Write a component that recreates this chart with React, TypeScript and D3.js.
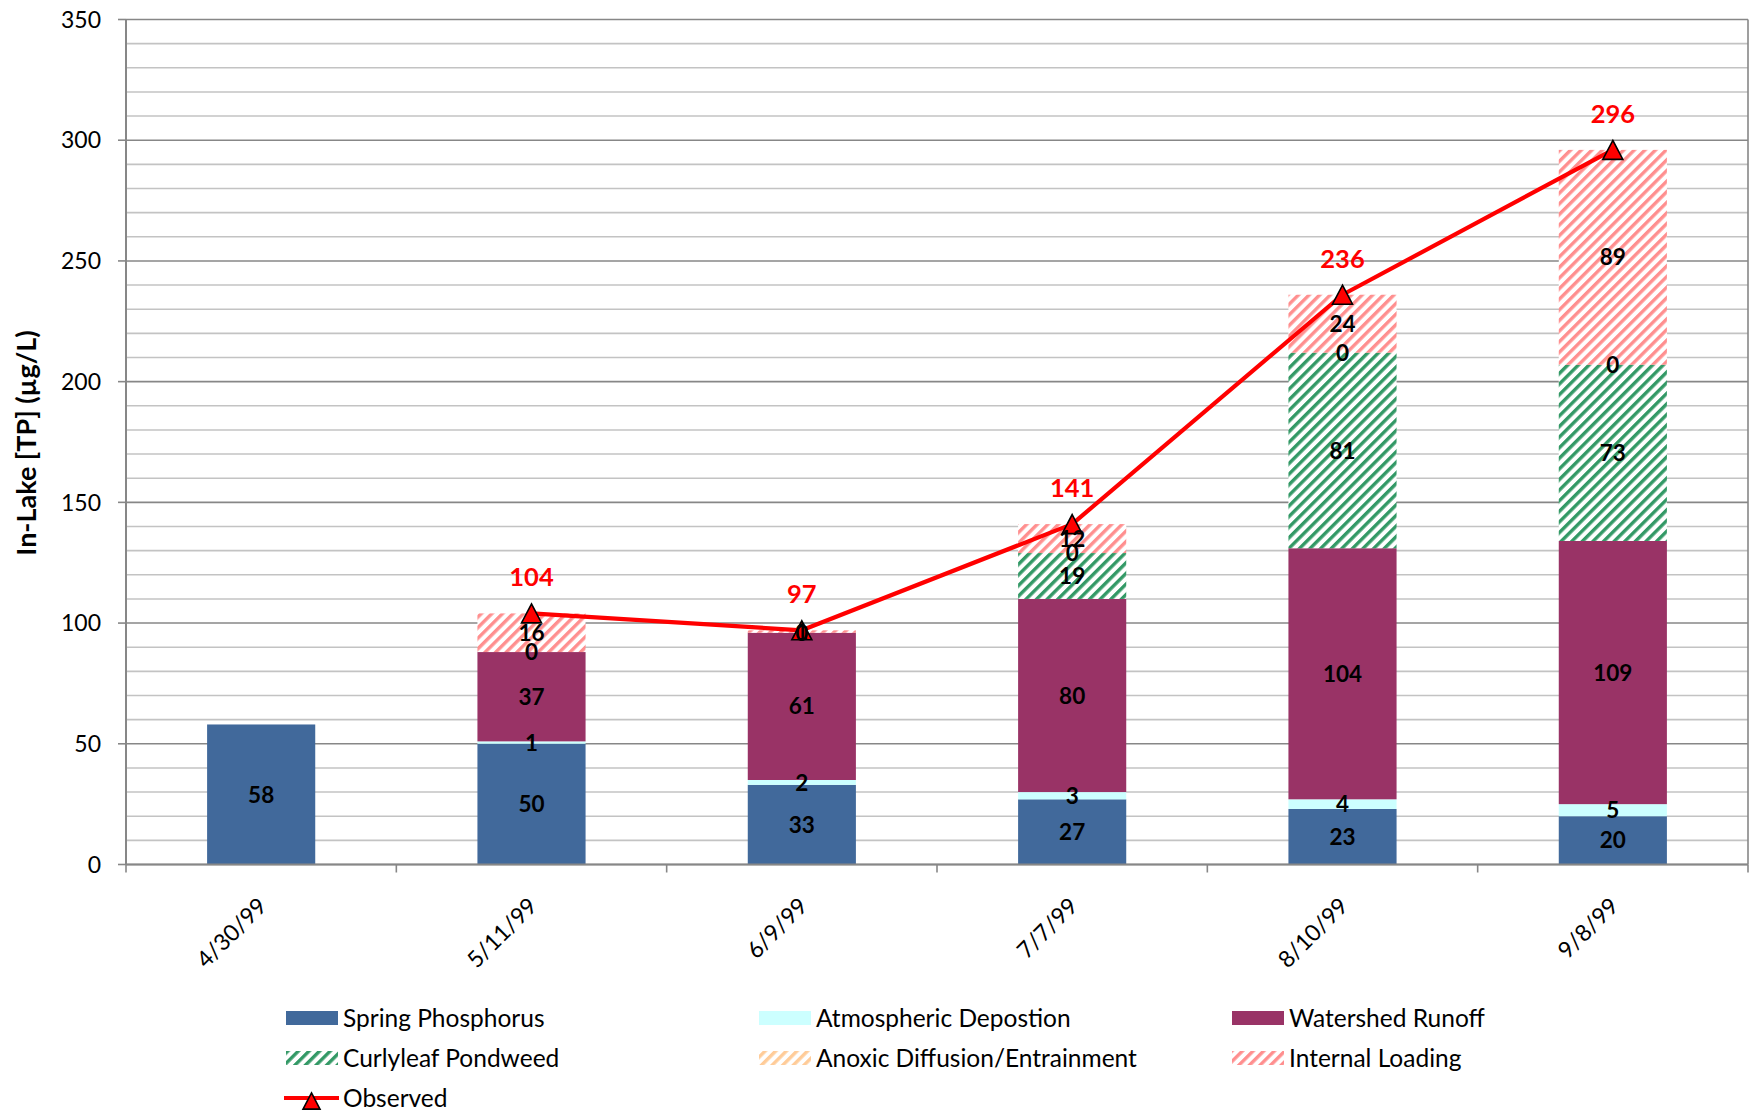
import React from "react";
import * as d3 from "d3";

// Sampling dates (category axis)
const dates = ["4/30/99", "5/11/99", "6/9/99", "7/7/99", "8/10/99", "9/8/99"];

// Phosphorus source contributions, µg/L (null = not part of that date's budget)
const springPhosphorus = [58, 50, 33, 27, 23, 20];
const atmosphericDeposition = [null, 1, 2, 3, 4, 5];
const watershedRunoff = [null, 37, 61, 80, 104, 109];
const curlyleafPondweed = [null, null, null, 19, 81, 73];
const anoxicDiffusion = [null, 0, 0, 0, 0, 0];
const internalLoading = [null, 16, 1, 12, 24, 89];

// Measured in-lake TP
const observed = [null, 104, 97, 141, 236, 296];

const yTicks = [0, 50, 100, 150, 200, 250, 300, 350];

const W = 1754;
const H = 1113;
const PLOT = { left: 126, right: 1748, top: 19.5, bottom: 864.5 };
const FONT = "Lato, 'Open Sans', sans-serif";

type Series = {
  key: string;
  label: string;
  values: (number | null)[];
  fill: string;
  hatch?: string;
};

const series: Series[] = [
  { key: "spring", label: "Spring Phosphorus", values: springPhosphorus, fill: "#41699b" },
  { key: "atmos", label: "Atmospheric Depostion", values: atmosphericDeposition, fill: "#ccffff" },
  { key: "runoff", label: "Watershed Runoff", values: watershedRunoff, fill: "#993366" },
  { key: "curly", label: "Curlyleaf Pondweed", values: curlyleafPondweed, fill: "url(#hatch-curly)", hatch: "#339966" },
  { key: "anoxic", label: "Anoxic Diffusion/Entrainment", values: anoxicDiffusion, fill: "url(#hatch-anoxic)", hatch: "#ffcc99" },
  { key: "internal", label: "Internal Loading", values: internalLoading, fill: "url(#hatch-internal)", hatch: "#ff8f8f" },
];

export default function App() {
  const x = d3
    .scaleBand<string>()
    .domain(dates)
    .range([PLOT.left, PLOT.right])
    .paddingInner(0.6)
    .paddingOuter(0.3);
  const y = d3.scaleLinear().domain([0, 350]).range([PLOT.bottom, PLOT.top]);

  const rows = dates.map((d, i) => {
    const r: Record<string, number | string> = { date: d };
    series.forEach((s) => (r[s.key] = s.values[i] ?? 0));
    return r;
  });
  const stacked = d3.stack<Record<string, number | string>>().keys(series.map((s) => s.key))(rows as any);

  const minorTicks = d3.range(0, 351, 10);
  const step = x.step();
  const catEdges = d3.range(dates.length + 1).map((k) => PLOT.left + k * step);

  const cx = (d: string) => (x(d) as number) + x.bandwidth() / 2;

  const obsPts = dates
    .map((d, i) => ({ d, v: observed[i] }))
    .filter((p) => p.v !== null) as { d: string; v: number }[];
  const line = d3
    .line<{ d: string; v: number }>()
    .x((p) => cx(p.d))
    .y((p) => y(p.v));

  const tri = (px: number, py: number, s = 10) =>
    `M${px},${py - s * 0.95} L${px + s},${py + s * 0.95} L${px - s},${py + s * 0.95} Z`;

  const legendCols = [286, 759, 1232];
  const legendRows = [1018, 1058, 1098];

  return (
    <svg
      width={W}
      height={H}
      style={{ position: "absolute", left: 0, top: 0, background: "#fff" }}
      fontFamily={FONT}
    >
      <defs>
        {series
          .filter((s) => s.hatch)
          .map((s) => (
            <pattern
              key={s.key}
              id={`hatch-${s.key}`}
              patternUnits="userSpaceOnUse"
              width={7.5}
              height={7.5}
              patternTransform="rotate(45)"
            >
              <rect width={7.5} height={7.5} fill="#fff" />
              <rect width={3.4} height={7.5} fill={s.hatch} />
            </pattern>
          ))}
      </defs>

      {/* gridlines */}
      {minorTicks.map((t) => (
        <line
          key={t}
          x1={PLOT.left}
          x2={PLOT.right}
          y1={y(t)}
          y2={y(t)}
          stroke={t % 50 === 0 ? "#878787" : "#c3c3c3"}
          strokeWidth={1.6}
        />
      ))}
      <line x1={PLOT.right} x2={PLOT.right} y1={PLOT.top} y2={PLOT.bottom} stroke="#878787" strokeWidth={1.6} />

      {/* stacked bars */}
      {stacked.map((layer, si) =>
        layer.map((seg, i) => {
          if (series[si].values[i] === null) return null;
          const h = y(seg[0]) - y(seg[1]);
          if (h <= 0) return null;
          return (
            <rect
              key={`${si}-${i}`}
              x={x(dates[i])}
              y={y(seg[1])}
              width={x.bandwidth()}
              height={h}
              fill={series[si].fill}
            />
          );
        })
      )}

      {/* axes */}
      <line x1={PLOT.left} x2={PLOT.left} y1={PLOT.top} y2={PLOT.bottom} stroke="#878787" strokeWidth={2} />
      <line x1={PLOT.left} x2={PLOT.right} y1={PLOT.bottom} y2={PLOT.bottom} stroke="#878787" strokeWidth={2} />
      {yTicks.map((t) => (
        <g key={t}>
          <line x1={PLOT.left - 8} x2={PLOT.left} y1={y(t)} y2={y(t)} stroke="#878787" strokeWidth={1.6} />
          <text x={101} y={y(t)} dy="0.36em" textAnchor="end" fontSize={23} fill="#000">
            {t}
          </text>
        </g>
      ))}
      {catEdges.map((ex, k) => (
        <line key={k} x1={ex} x2={ex} y1={PLOT.bottom} y2={PLOT.bottom + 8} stroke="#878787" strokeWidth={1.6} />
      ))}
      {dates.map((d) => (
        <text
          key={d}
          transform={`translate(${cx(d) + 7},${PLOT.bottom + 43}) rotate(-45)`}
          textAnchor="end"
          fontSize={23}
          fill="#000"
        >
          {d}
        </text>
      ))}
      <text
        transform={`translate(36,443) rotate(-90)`}
        textAnchor="middle"
        fontSize={27}
        fontWeight="bold"
        fill="#000"
      >
        In-Lake [TP] (µg/L)
      </text>

      {/* observed line */}
      <path d={line(obsPts) ?? ""} fill="none" stroke="#ff0000" strokeWidth={4.2} strokeLinejoin="round" />
      {obsPts.map((p) => (
        <path key={p.d} d={tri(cx(p.d), y(p.v))} fill="#ff0000" stroke="#000" strokeWidth={1.6} />
      ))}

      {/* segment labels */}
      {stacked.map((layer, si) =>
        layer.map((seg, i) => {
          const v = series[si].values[i];
          if (v === null) return null;
          return (
            <text
              key={`l-${si}-${i}`}
              x={cx(dates[i])}
              y={y((seg[0] + seg[1]) / 2)}
              dy="0.36em"
              textAnchor="middle"
              fontSize={22.5}
              fontWeight="bold"
              fill="#000"
            >
              {v}
            </text>
          );
        })
      )}

      {/* observed labels */}
      {obsPts.map((p) => (
        <text
          key={`o-${p.d}`}
          x={cx(p.d)}
          y={y(p.v) - 27}
          textAnchor="middle"
          fontSize={25.5}
          fontWeight="bold"
          fill="#ff0000"
        >
          {p.v}
        </text>
      ))}

      {/* legend */}
      {series.map((s, k) => {
        const lx = legendCols[k % 3];
        const ly = legendRows[Math.floor(k / 3)];
        return (
          <g key={`lg-${s.key}`}>
            <rect x={lx} y={ly - 7} width={52} height={14} fill={s.fill} />
            <text x={lx + 57} y={ly} dy="0.36em" fontSize={24.5} fill="#000">
              {s.label}
            </text>
          </g>
        );
      })}
      <g>
        <line
          x1={legendCols[0] - 2}
          x2={legendCols[0] + 53}
          y1={legendRows[2]}
          y2={legendRows[2]}
          stroke="#ff0000"
          strokeWidth={4.2}
        />
        <path d={tri(legendCols[0] + 25.5, legendRows[2] + 3, 8.5)} fill="#ff0000" stroke="#000" strokeWidth={1.6} />
        <text x={legendCols[0] + 57} y={legendRows[2]} dy="0.36em" fontSize={24.5} fill="#000">
          Observed
        </text>
      </g>
    </svg>
  );
}
